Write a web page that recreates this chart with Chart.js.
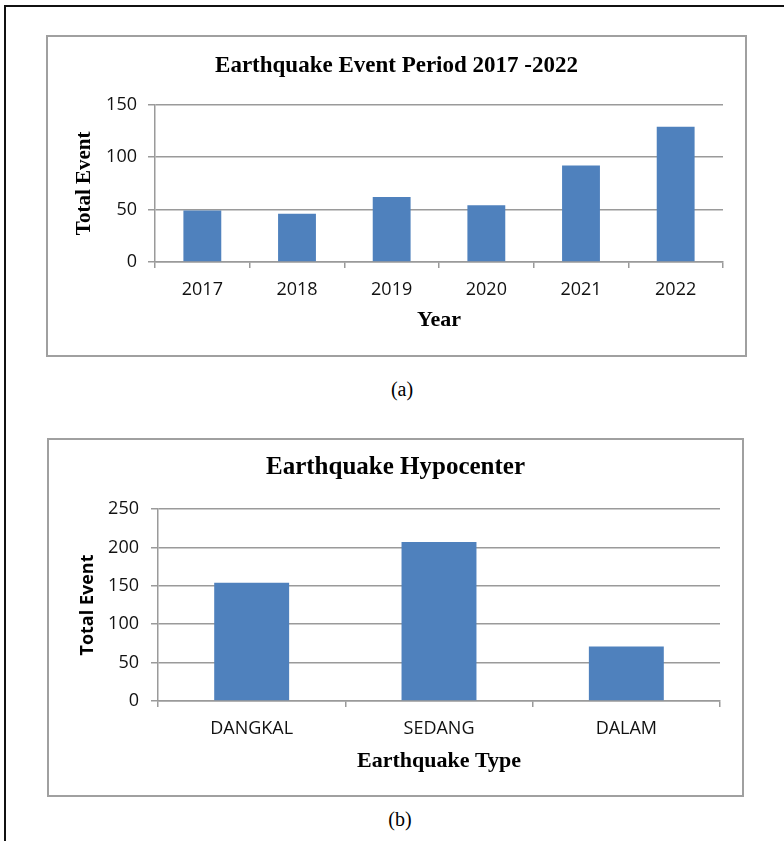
<!DOCTYPE html>
<html>
<head>
<meta charset="utf-8">
<title>Earthquake charts</title>
<script src="https://cdn.jsdelivr.net/npm/chart.js@4.4.1/dist/chart.umd.min.js"></script>
<style>
  html, body { margin: 0; padding: 0; background: #fff; overflow: hidden; }
  body { width: 784px; height: 841px; position: relative; }
  /* marco exterior (solo se ven izquierda y arriba) */
  .frame { position: absolute; left: 4px; top: 5px; width: 900px; height: 900px;
           border-left: 2px solid #111; border-top: 2px solid #111; }
  .box { position: absolute; box-sizing: border-box; border: 2px solid #a0a0a0; background: #fff; }
  #boxA { left: 46px; top: 35px; width: 701px; height: 322px; }
  #boxB { left: 47px; top: 438px; width: 697px; height: 359px; }
  canvas { position: absolute; left: 0; top: 0; }
  .caption { position: absolute; width: 60px; text-align: center;
             font-family: 'Liberation Serif', 'Times New Roman', serif; font-size: 20px; color: #000; }
  #capA { left: 372px; top: 378px; }
  #capB { left: 370px; top: 808px; }
</style>
</head>
<body>
<div class="frame"></div>
<div class="box" id="boxA"><canvas id="yearChart" width="697" height="318"></canvas></div>
<div class="caption" id="capA">(a)</div>
<div class="box" id="boxB"><canvas id="typeChart" width="693" height="355"></canvas></div>
<div class="caption" id="capB">(b)</div>

<script>
// Datos (a): eventos por año
const years      = ['2017', '2018', '2019', '2020', '2021', '2022'];
const yearEvents = [49, 46, 62, 54, 92, 129];
const yearTicks  = [0, 50, 100, 150];

// Datos (b): eventos por tipo de hipocentro
const types      = ['DANGKAL', 'SEDANG', 'DALAM'];
const typeEvents = [154, 207, 71];
const typeTicks  = [0, 50, 100, 150, 200, 250];

const BAR  = '#4F81BD';
const GRID = '#9a9a9a';
const SERIF = "'Liberation Serif', 'Times New Roman', serif";
const SANS  = "'Open Sans', 'Liberation Sans', sans-serif";
const SIDE = 22; // margen lateral simétrico para que el título quede centrado

/**
 * Construye un bar chart estilo Excel.
 * cfg: labels, data, ticks, title, xTitle + tamaños de layout
 */
function barChart(id, cfg) {
  const ctx = document.getElementById(id).getContext('2d');
  const maxTick = cfg.ticks[cfg.ticks.length - 1];
  const step = cfg.ticks[1] - cfg.ticks[0];
  return new Chart(ctx, {
    type: 'bar',
    data: {
      labels: cfg.labels,
      datasets: [{ data: cfg.data, backgroundColor: BAR,
                   barPercentage: 0.4, categoryPercentage: 1 }]
    },
    options: {
      responsive: false,
      animation: false,
      layout: { padding: { left: SIDE, right: SIDE, top: 0, bottom: 0 } },
      plugins: {
        legend: { display: false },
        tooltip: { enabled: false },
        title: {
          display: true, text: cfg.title, color: '#000',
          font: { family: SERIF, size: cfg.titleSize, weight: 'bold' },
          padding: cfg.titlePad
        }
      },
      scales: {
        x: {
          grid: { offset: true, drawOnChartArea: false, drawTicks: true,
                  tickLength: 6, color: GRID, lineWidth: 1.5 },
          border: { display: true, color: GRID, width: 1.5 },
          ticks: { color: '#111', padding: cfg.xTickPad, font: { family: SANS, size: 18 } },
          title: { display: true, text: cfg.xTitle, color: '#000',
                   font: { family: SERIF, size: 22, weight: 'bold' },
                   padding: { top: 0, bottom: cfg.xTitlePad } },
          afterFit: s => { s.height = cfg.xHeight; }
        },
        y: {
          min: 0, max: maxTick,
          grid: { color: GRID, lineWidth: 1.5, tickLength: 7, drawTicks: true },
          border: { display: true, color: GRID, width: 1.5 },
          ticks: { stepSize: step, color: '#111', padding: cfg.yTickPad,
                   font: { family: SANS, size: 18 } },
          title: { display: true, text: 'Total Event', color: '#000',
                   font: cfg.yTitleFont,
                   padding: { top: cfg.yTitlePad, bottom: 0 } },
          afterFit: s => { s.width = cfg.yWidth - SIDE; }
        }
      }
    }
  });
}

// Gráfica (a)
barChart('yearChart', {
  labels: years, data: yearEvents, ticks: yearTicks,
  title: 'Earthquake Event Period 2017 -2022', titleSize: 23,
  titlePad: { top: 15, bottom: 25 },
  xTitle: 'Year', xTitlePad: 21, xTickPad: 11, xHeight: 93,
  yTitleFont: { family: SERIF, size: 21, weight: 'bold' }, yTitlePad: 24 - SIDE,
  yTickPad: 11, yWidth: 107
});

// Gráfica (b)
barChart('typeChart', {
  labels: types, data: typeEvents, ticks: typeTicks,
  title: 'Earthquake Hypocenter', titleSize: 25,
  titlePad: { top: 13, bottom: 26 },
  xTitle: 'Earthquake Type', xTitlePad: 20, xTickPad: 11, xHeight: 94,
  yTitleFont: { family: SANS, size: 18, weight: 'bold' }, yTitlePad: 28 - SIDE,
  yTickPad: 12, yWidth: 109
});
</script>
</body>
</html>
